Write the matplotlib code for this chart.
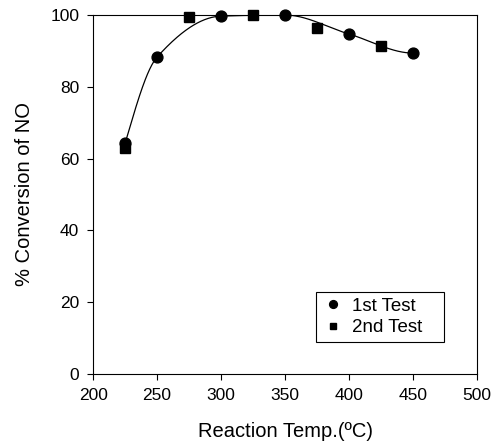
import numpy as np
import matplotlib
matplotlib.use("Agg")
import matplotlib.pyplot as plt
from matplotlib.patches import Rectangle

plt.rcParams['font.family'] = ['Liberation Sans', 'DejaVu Sans']

temp1 = [225, 250, 300, 350, 400, 450]
conv1 = [64.3, 88.3, 99.7, 100.0, 94.7, 89.4]
temp2 = [225, 275, 325, 375, 425]
conv2 = [63.0, 99.4, 100.0, 96.4, 91.4]


def hermite_fit(x, y, xs):
    """Monotone (Fritsch-Carlson) piecewise cubic through the points, flat at the right end."""
    x = np.asarray(x, float); y = np.asarray(y, float)
    h = np.diff(x); d = np.diff(y) / h
    n = len(x)
    m = np.zeros(n)
    for i in range(1, n - 1):
        if d[i - 1] * d[i] > 0:
            w1 = 2 * h[i] + h[i - 1]
            w2 = h[i] + 2 * h[i - 1]
            m[i] = (w1 + w2) / (w1 / d[i - 1] + w2 / d[i])
    m[0] = ((2 * h[0] + h[1]) * d[0] - h[0] * d[1]) / (h[0] + h[1])
    m[-1] = 0.0
    out = np.empty_like(xs)
    for k, xv in enumerate(xs):
        i = min(max(np.searchsorted(x, xv) - 1, 0), n - 2)
        t = (xv - x[i]) / h[i]
        h00 = 2 * t**3 - 3 * t**2 + 1
        h10 = t**3 - 2 * t**2 + t
        h01 = -2 * t**3 + 3 * t**2
        h11 = t**3 - t**2
        out[k] = h00 * y[i] + h10 * h[i] * m[i] + h01 * y[i + 1] + h11 * h[i] * m[i + 1]
    return out


fig = plt.figure(figsize=(4.98, 4.42), dpi=100)
ax = fig.add_axes([0.187, 0.154, 0.771, 0.812])

xs = np.linspace(min(temp1), max(temp1), 400)
ax.plot(xs, hermite_fit(temp1, conv1, xs), color='black', lw=0.9)
ax.plot(temp1, conv1, 'o', color='black', ms=7.8, label='1st Test', clip_on=False, zorder=3)
ax.plot(temp2, conv2, 's', color='black', ms=6.8, label='2nd Test', clip_on=False, zorder=3)

ax.set_xlim(200, 500)
ax.set_ylim(0, 100)
ax.set_xticks(range(200, 501, 50))
ax.set_yticks(range(0, 101, 20))
ax.tick_params(direction='out', length=4, width=0.8, labelsize=12.5, colors='black', pad=6)
for s in ax.spines.values():
    s.set_linewidth(0.8)
ax.set_xlabel('Reaction Temp.(ºC)', fontsize=14.5, labelpad=14)
ax.set_ylabel('% Conversion of NO', fontsize=14.5, labelpad=12)

leg = ax.legend(loc='upper left', bbox_to_anchor=(0.605, 0.213), fontsize=13.5, frameon=False,
                markerscale=0.72, handlelength=0.8, handletextpad=0.6,
                borderpad=0, labelspacing=0.25, borderaxespad=0)

fig.canvas.draw()
bb = leg.get_window_extent(fig.canvas.get_renderer())
inv = fig.transFigure.inverted()
(x0, y0), (x1, y1) = inv.transform([(bb.x0 - 9, bb.y0 - 6), (bb.x1 + 22, bb.y1 + 5)])
fig.patches.append(Rectangle((x0, y0), x1 - x0, y1 - y0, transform=fig.transFigure,
                             fill=False, edgecolor='black', lw=0.8, zorder=5))

fig.savefig('out.png', dpi=100)
